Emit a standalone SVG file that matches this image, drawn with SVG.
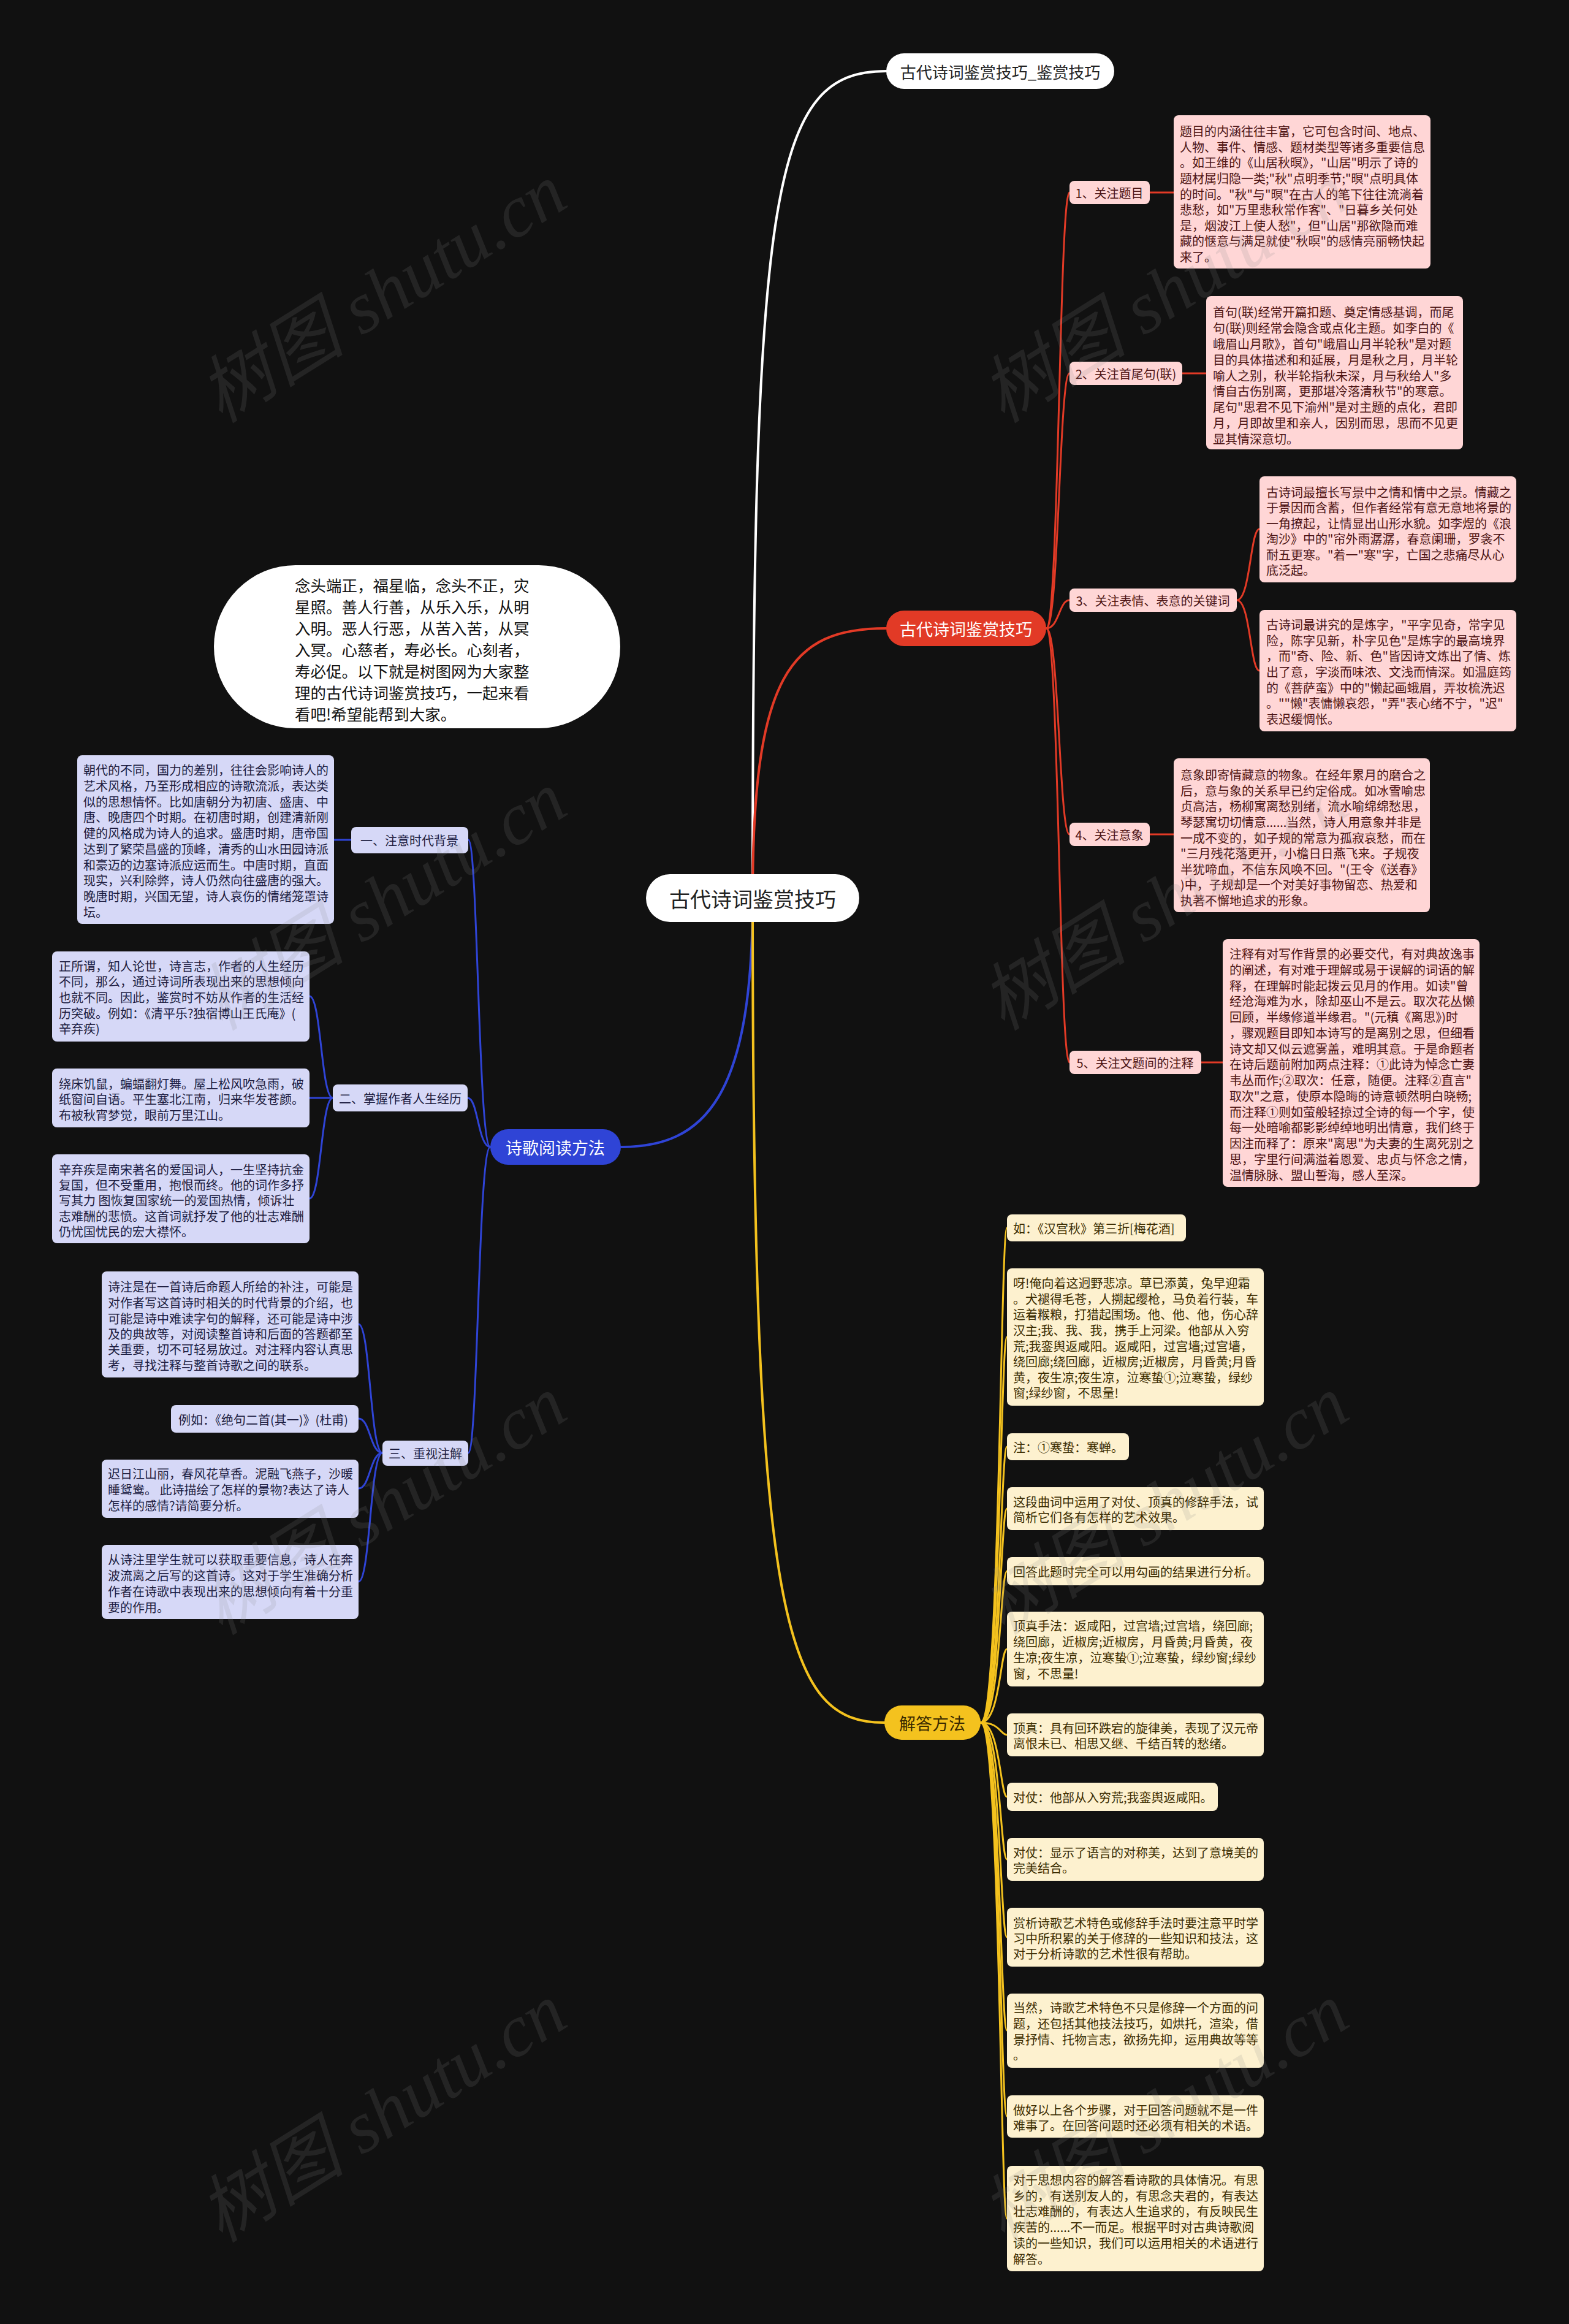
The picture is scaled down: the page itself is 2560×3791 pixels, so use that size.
<svg xmlns="http://www.w3.org/2000/svg" width="2560" height="3791" viewBox="0 0 2560 3791">
<style>
text{font-family:"Noto Sans CJK SC","Noto Sans",sans-serif;dominant-baseline:central}
.pk{fill:#ffd6d6}
.pt{fill:#4d1414;font-size:20px}
.lv{fill:#d6d8f7}
.lt{fill:#1c1c40;font-size:20px}
.yw{fill:#fdf1cf}
.yt{fill:#3b2c00;font-size:20px}
.c{fill:none;stroke-linecap:round}
.wm{font-family:"Liberation Serif","Noto Sans CJK SC",serif;font-style:italic;font-size:120px;fill:#8a8a8a;opacity:0.16;dominant-baseline:auto}
</style>
<rect width="2560" height="3791" fill="#111111"/>
<g id="connectors">
<path class="c" stroke="#ffffff" stroke-width="4" d="M1228 1465 C1228 300 1260 116 1446 116"/>
<path class="c" stroke="#e23a26" stroke-width="4" d="M1228 1465 C1228 1100 1290 1025 1446 1025"/>
<path class="c" stroke="#2f44d6" stroke-width="4" d="M1228 1465 C1228 1790 1150 1871 1013 1871"/>
<path class="c" stroke="#f4c21e" stroke-width="4" d="M1228 1465 C1228 2650 1280 2810 1443 2810"/>
<g stroke="#e23a26" stroke-width="3" class="c">
<path d="M1707 1025 C1728 1025 1728 314 1745 314"/>
<path d="M1707 1025 C1728 1025 1728 609 1745 609"/>
<path d="M1707 1025 C1728 1025 1728 979 1745 979"/>
<path d="M1707 1025 C1728 1025 1728 1361 1745 1361"/>
<path d="M1707 1025 C1728 1025 1728 1733 1745 1733"/>
<path d="M1876 314 L1915 314"/>
<path d="M1929 609 L1968 609"/>
<path d="M2018 979 C2040 979 2040 863 2055 863"/>
<path d="M2018 979 C2040 979 2040 1094 2055 1094"/>
<path d="M1876 1361 L1915 1361"/>
<path d="M1960 1733 L1995 1733"/>
</g>
<g stroke="#2f44d6" stroke-width="3" class="c">
<path d="M800 1871 C780 1871 780 1370 764 1370"/>
<path d="M800 1871 C780 1871 780 1791 763 1791"/>
<path d="M800 1871 C780 1871 780 2370 764 2370"/>
<path d="M573 1370 L545 1370"/>
<path d="M543 1791 C524 1791 524 1625 505 1625"/>
<path d="M543 1791 L505 1791"/>
<path d="M543 1791 C524 1791 524 1955 505 1955"/>
<path d="M624 2370 C604 2370 604 2160 585 2160"/>
<path d="M624 2370 C604 2370 604 2314 585 2314"/>
<path d="M624 2370 C604 2370 604 2428 585 2428"/>
<path d="M624 2370 C604 2370 604 2580 585 2580"/>
</g>
<g stroke="#f4c21e" stroke-width="3" class="c">
<path d="M1600 2810 C1632 2810 1632 2003 1643 2003"/>
<path d="M1600 2810 C1632 2810 1632 2181 1643 2181"/>
<path d="M1600 2810 C1632 2810 1632 2360 1643 2360"/>
<path d="M1600 2810 C1632 2810 1632 2461 1643 2461"/>
<path d="M1600 2810 C1632 2810 1632 2563 1643 2563"/>
<path d="M1600 2810 C1632 2810 1632 2690 1643 2690"/>
<path d="M1600 2810 C1632 2810 1632 2830 1643 2830"/>
<path d="M1600 2810 C1632 2810 1632 2931 1643 2931"/>
<path d="M1600 2810 C1632 2810 1632 3033 1643 3033"/>
<path d="M1600 2810 C1632 2810 1632 3160 1643 3160"/>
<path d="M1600 2810 C1632 2810 1632 3312 1643 3312"/>
<path d="M1600 2810 C1632 2810 1632 3452 1643 3452"/>
<path d="M1600 2810 C1632 2810 1632 3619 1643 3619"/>
</g>
</g>
<g id="center">
<rect x="1054" y="1426" width="348" height="78" rx="39" fill="#ffffff"/>
<text x="1228" y="1465" font-size="34" fill="#222222" text-anchor="middle">古代诗词鉴赏技巧</text>
</g>
<g id="top-node">
<rect x="1446" y="87" width="372" height="58" rx="29" fill="#ffffff"/>
<text x="1632" y="116" font-size="26" fill="#222222" text-anchor="middle">古代诗词鉴赏技巧_鉴赏技巧</text>
</g>
<g id="red-node">
<rect x="1446" y="996" width="261" height="58" rx="29" fill="#e23a26"/>
<text x="1576" y="1025" font-size="27" fill="#ffffff" text-anchor="middle">古代诗词鉴赏技巧</text>
</g>
<g id="blue-node">
<rect x="800" y="1842" width="213" height="58" rx="29" fill="#2f44d6"/>
<text x="906" y="1871" font-size="27" fill="#ffffff" text-anchor="middle">诗歌阅读方法</text>
</g>
<g id="yellow-node">
<rect x="1443" y="2782" width="157" height="56" rx="28" fill="#f4c21e"/>
<text x="1521" y="2810" font-size="27" fill="#3a2a00" text-anchor="middle">解答方法</text>
</g>
<g id="intro">
<rect x="349" y="922" width="663" height="266" rx="133" fill="#ffffff"/>
<g font-size="25.5" fill="#111111">
<text x="481" y="953">念头端正，福星临，念头不正，灾</text>
<text x="481" y="988">星照。善人行善，从乐入乐，从明</text>
<text x="481" y="1023">入明。恶人行恶，从苦入苦，从冥</text>
<text x="481" y="1058">入冥。心慈者，寿必长。心刻者，</text>
<text x="481" y="1093">寿必促。以下就是树图网为大家整</text>
<text x="481" y="1128">理的古代诗词鉴赏技巧，一起来看</text>
<text x="481" y="1163">看吧!希望能帮到大家。</text>
</g>
</g>
<g id="r1">
<rect class="pk" x="1745" y="295" width="131" height="38" rx="8"/>
<text class="pt" x="1810" y="314" text-anchor="middle">1、关注题目</text>
</g>
<g id="r2">
<rect class="pk" x="1745" y="590" width="184" height="38" rx="8"/>
<text class="pt" x="1837" y="609" text-anchor="middle">2、关注首尾句(联)</text>
</g>
<g id="r3">
<rect class="pk" x="1745" y="960" width="273" height="38" rx="8"/>
<text class="pt" x="1881" y="979" text-anchor="middle">3、关注表情、表意的关键词</text>
</g>
<g id="r4">
<rect class="pk" x="1745" y="1342" width="131" height="38" rx="8"/>
<text class="pt" x="1810" y="1361" text-anchor="middle">4、关注意象</text>
</g>
<g id="r5">
<rect class="pk" x="1745" y="1714" width="215" height="38" rx="8"/>
<text class="pt" x="1852" y="1733" text-anchor="middle">5、关注文题间的注释</text>
</g>
<g id="r1-text">
<rect class="pk" x="1915" y="188" width="419" height="250" rx="8"/>
<g class="pt">
<text class="pt" x="1925" y="213">题目的内涵往往丰富，它可包含时间、地点、</text>
<text class="pt" x="1925" y="239">人物、事件、情感、题材类型等诸多重要信息</text>
<text class="pt" x="1925" y="264">。如王维的《山居秋暝》，"山居"明示了诗的</text>
<text class="pt" x="1925" y="290">题材属归隐一类;"秋"点明季节;"暝"点明具体</text>
<text class="pt" x="1925" y="316">的时间。"秋"与"暝"在古人的笔下往往流淌着</text>
<text class="pt" x="1925" y="341">悲愁，如"万里悲秋常作客"、"日暮乡关何处</text>
<text class="pt" x="1925" y="367">是，烟波江上使人愁"，但"山居"那欲隐而难</text>
<text class="pt" x="1925" y="392">藏的惬意与满足就使"秋暝"的感情亮丽畅快起</text>
<text class="pt" x="1925" y="418">来了。</text>
</g>
</g>
<g id="r2-text">
<rect class="pk" x="1968" y="483" width="419" height="250" rx="8"/>
<text class="pt" x="1979" y="508">首句(联)经常开篇扣题、奠定情感基调，而尾</text>
<text class="pt" x="1979" y="534">句(联)则经常会隐含或点化主题。如李白的《</text>
<text class="pt" x="1979" y="560">峨眉山月歌》，首句"峨眉山月半轮秋"是对题</text>
<text class="pt" x="1979" y="586">目的具体描述和和延展，月是秋之月，月半轮</text>
<text class="pt" x="1979" y="612">喻人之别，秋半轮指秋未深，月与秋给人"多</text>
<text class="pt" x="1979" y="637">情自古伤别离，更那堪冷落清秋节"的寒意。</text>
<text class="pt" x="1979" y="663">尾句"思君不见下渝州"是对主题的点化，君即</text>
<text class="pt" x="1979" y="689">月，月即故里和亲人，因别而思，思而不见更</text>
<text class="pt" x="1979" y="715">显其情深意切。</text>
</g>
<g id="r3a-text">
<rect class="pk" x="2055" y="777" width="419" height="173" rx="8"/>
<text class="pt" x="2066" y="802">古诗词最擅长写景中之情和情中之景。情藏之</text>
<text class="pt" x="2066" y="827">于景因而含蓄，但作者经常有意无意地将景的</text>
<text class="pt" x="2066" y="853">一角撩起，让情显出山形水貌。如李煜的《浪</text>
<text class="pt" x="2066" y="878">淘沙》中的"帘外雨潺潺，春意阑珊，罗衾不</text>
<text class="pt" x="2066" y="904">耐五更寒。"着一"寒"字，亡国之悲痛尽从心</text>
<text class="pt" x="2066" y="929">底泛起。</text>
</g>
<g id="r3b-text">
<rect class="pk" x="2055" y="995" width="419" height="198" rx="8"/>
<text class="pt" x="2066" y="1018">古诗词最讲究的是炼字，"平字见奇，常字见</text>
<text class="pt" x="2066" y="1044">险，陈字见新，朴字见色"是炼字的最高境界</text>
<text class="pt" x="2066" y="1069">，而"奇、险、新、色"皆因诗文炼出了情、炼</text>
<text class="pt" x="2066" y="1095">出了意，字淡而味浓、文浅而情深。如温庭筠</text>
<text class="pt" x="2066" y="1121">的《菩萨蛮》中的"懒起画蛾眉，弄妆梳洗迟</text>
<text class="pt" x="2066" y="1146">。""懒"表慵懒哀怨，"弄"表心绪不宁，"迟"</text>
<text class="pt" x="2066" y="1172">表迟缓惆怅。</text>
</g>
<g id="r4-text">
<rect class="pk" x="1915" y="1237" width="418" height="251" rx="8"/>
<text class="pt" x="1926" y="1263">意象即寄情藏意的物象。在经年累月的磨合之</text>
<text class="pt" x="1926" y="1289">后，意与象的关系早已约定俗成。如冰雪喻忠</text>
<text class="pt" x="1926" y="1314">贞高洁，杨柳寓离愁别绪，流水喻绵绵愁思，</text>
<text class="pt" x="1926" y="1340">琴瑟寓切切情意......当然，诗人用意象并非是</text>
<text class="pt" x="1926" y="1366">一成不变的，如子规的常意为孤寂哀愁，而在</text>
<text class="pt" x="1926" y="1391">"三月残花落更开，小檐日日燕飞来。子规夜</text>
<text class="pt" x="1926" y="1417">半犹啼血，不信东风唤不回。"(王令《送春》</text>
<text class="pt" x="1926" y="1442">)中，子规却是一个对美好事物留恋、热爱和</text>
<text class="pt" x="1926" y="1468">执著不懈地追求的形象。</text>
</g>
<g id="r5-text">
<rect class="pk" x="1995" y="1532" width="419" height="404" rx="8"/>
<text class="pt" x="2006" y="1555">注释有对写作背景的必要交代，有对典故逸事</text>
<text class="pt" x="2006" y="1581">的阐述，有对难于理解或易于误解的词语的解</text>
<text class="pt" x="2006" y="1607">释，在理解时能起拨云见月的作用。如读"曾</text>
<text class="pt" x="2006" y="1632">经沧海难为水，除却巫山不是云。取次花丛懒</text>
<text class="pt" x="2006" y="1658">回顾，半缘修道半缘君。"(元稹《离思》)时</text>
<text class="pt" x="2006" y="1684">，骤观题目即知本诗写的是离别之思，但细看</text>
<text class="pt" x="2006" y="1710">诗文却又似云遮雾盖，难明其意。于是命题者</text>
<text class="pt" x="2006" y="1735">在诗后题前附加两点注释：①此诗为悼念亡妻</text>
<text class="pt" x="2006" y="1761">韦丛而作;②取次：任意，随便。注释②直言"</text>
<text class="pt" x="2006" y="1787">取次"之意，使原本隐晦的诗意顿然明白晓畅;</text>
<text class="pt" x="2006" y="1813">而注释①则如萤般轻掠过全诗的每一个字，使</text>
<text class="pt" x="2006" y="1838">每一处暗喻都影影绰绰地明出情意，我们终于</text>
<text class="pt" x="2006" y="1864">因注而释了：原来"离思"为夫妻的生离死别之</text>
<text class="pt" x="2006" y="1890">思，字里行间满溢着恩爱、忠贞与怀念之情，</text>
<text class="pt" x="2006" y="1916">温情脉脉、盟山誓海，感人至深。</text>
</g>
<g id="b1">
<rect class="lv" x="573" y="1349" width="191" height="43" rx="8"/>
<text class="lt" x="668" y="1370" text-anchor="middle">一、注意时代背景</text>
</g>
<g id="b2">
<rect class="lv" x="543" y="1769" width="220" height="44" rx="8"/>
<text class="lt" x="653" y="1791" text-anchor="middle">二、掌握作者人生经历</text>
</g>
<g id="b3">
<rect class="lv" x="624" y="2350" width="140" height="41" rx="8"/>
<text class="lt" x="694" y="2370" text-anchor="middle">三、重视注解</text>
</g>
<g id="b1-text">
<rect class="lv" x="126" y="1232" width="419" height="275" rx="8"/>
<text class="lt" x="136" y="1255">朝代的不同，国力的差别，往往会影响诗人的</text>
<text class="lt" x="136" y="1281">艺术风格，乃至形成相应的诗歌流派，表达类</text>
<text class="lt" x="136" y="1307">似的思想情怀。比如唐朝分为初唐、盛唐、中</text>
<text class="lt" x="136" y="1332">唐、晚唐四个时期。在初唐时期，创建清新刚</text>
<text class="lt" x="136" y="1358">健的风格成为诗人的追求。盛唐时期，唐帝国</text>
<text class="lt" x="136" y="1384">达到了繁荣昌盛的顶峰，清秀的山水田园诗派</text>
<text class="lt" x="136" y="1410">和豪迈的边塞诗派应运而生。中唐时期，直面</text>
<text class="lt" x="136" y="1435">现实，兴利除弊，诗人仍然向往盛唐的强大。</text>
<text class="lt" x="136" y="1461">晚唐时期，兴国无望，诗人哀伤的情绪笼罩诗</text>
<text class="lt" x="136" y="1487">坛。</text>
</g>
<g id="b2a-text">
<rect class="lv" x="85" y="1552" width="420" height="147" rx="8"/>
<text class="lt" x="96" y="1575">正所谓，知人论世，诗言志，作者的人生经历</text>
<text class="lt" x="96" y="1600">不同，那么，通过诗词所表现出来的思想倾向</text>
<text class="lt" x="96" y="1626">也就不同。因此，鉴赏时不妨从作者的生活经</text>
<text class="lt" x="96" y="1652">历突破。例如：《清平乐?独宿博山王氏庵》(</text>
<text class="lt" x="96" y="1677">辛弃疾)</text>
</g>
<g id="b2b-text">
<rect class="lv" x="85" y="1743" width="420" height="96" rx="8"/>
<text class="lt" x="96" y="1767">绕床饥鼠，蝙蝠翻灯舞。屋上松风吹急雨，破</text>
<text class="lt" x="96" y="1792">纸窗间自语。平生塞北江南，归来华发苍颜。</text>
<text class="lt" x="96" y="1818">布被秋宵梦觉，眼前万里江山。</text>
</g>
<g id="b2c-text">
<rect class="lv" x="85" y="1883" width="420" height="145" rx="8"/>
<text class="lt" x="96" y="1907">辛弃疾是南宋著名的爱国词人，一生坚持抗金</text>
<text class="lt" x="96" y="1932">复国，但不受重用，抱恨而终。他的词作多抒</text>
<text class="lt" x="96" y="1957">写其力 图恢复国家统一的爱国热情，倾诉壮</text>
<text class="lt" x="96" y="1983">志难酬的悲愤。这首词就抒发了他的壮志难酬</text>
<text class="lt" x="96" y="2008">仍忧国忧民的宏大襟怀。</text>
</g>
<g id="b3a-text">
<rect class="lv" x="166" y="2074" width="419" height="173" rx="8"/>
<text class="lt" x="176" y="2098">诗注是在一首诗后命题人所给的补注，可能是</text>
<text class="lt" x="176" y="2124">对作者写这首诗时相关的时代背景的介绍，也</text>
<text class="lt" x="176" y="2150">可能是诗中难读字句的解释，还可能是诗中涉</text>
<text class="lt" x="176" y="2175">及的典故等，对阅读整首诗和后面的答题都至</text>
<text class="lt" x="176" y="2200">关重要，切不可轻易放过。对注释内容认真思</text>
<text class="lt" x="176" y="2226">考，寻找注释与整首诗歌之间的联系。</text>
</g>
<g id="b3b-text">
<rect class="lv" x="279" y="2292" width="306" height="45" rx="8"/>
<text class="lt" x="291" y="2315">例如：《绝句二首(其一)》(杜甫)</text>
</g>
<g id="b3c-text">
<rect class="lv" x="166" y="2381" width="419" height="95" rx="8"/>
<text class="lt" x="176" y="2403">迟日江山丽，春风花草香。泥融飞燕子，沙暖</text>
<text class="lt" x="176" y="2429">睡鸳鸯。 此诗描绘了怎样的景物?表达了诗人</text>
<text class="lt" x="176" y="2455">怎样的感情?请简要分析。</text>
</g>
<g id="b3d-text">
<rect class="lv" x="166" y="2520" width="419" height="121" rx="8"/>
<text class="lt" x="176" y="2543">从诗注里学生就可以获取重要信息，诗人在奔</text>
<text class="lt" x="176" y="2569">波流离之后写的这首诗。这对于学生准确分析</text>
<text class="lt" x="176" y="2595">作者在诗歌中表现出来的思想倾向有着十分重</text>
<text class="lt" x="176" y="2621">要的作用。</text>
</g>
<g id="y1">
<rect class="yw" x="1643" y="1981" width="292" height="44" rx="8"/>
<text class="yt" x="1653" y="2003">如：《汉宫秋》第三折[梅花酒]</text>
</g>
<g id="y2">
<rect class="yw" x="1643" y="2069" width="419" height="224" rx="8"/>
<text class="yt" x="1653" y="2092">呀!俺向着这迥野悲凉。草已添黄，兔早迎霜</text>
<text class="yt" x="1653" y="2118">。犬褪得毛苍，人搠起缨枪，马负着行装，车</text>
<text class="yt" x="1653" y="2143">运着糇粮，打猎起围场。他、他、他，伤心辞</text>
<text class="yt" x="1653" y="2169">汉主;我、我、我，携手上河梁。他部从入穷</text>
<text class="yt" x="1653" y="2195">荒;我銮舆返咸阳。返咸阳，过宫墙;过宫墙，</text>
<text class="yt" x="1653" y="2220">绕回廊;绕回廊，近椒房;近椒房，月昏黄;月昏</text>
<text class="yt" x="1653" y="2246">黄，夜生凉;夜生凉，泣寒蛰①;泣寒蛰，绿纱</text>
<text class="yt" x="1653" y="2271">窗;绿纱窗，不思量!</text>
</g>
<g id="y3">
<rect class="yw" x="1643" y="2338" width="199" height="44" rx="8"/>
<text class="yt" x="1653" y="2360">注：①寒蛰：寒蝉。</text>
</g>
<g id="y4">
<rect class="yw" x="1643" y="2426" width="419" height="70" rx="8"/>
<text class="yt" x="1653" y="2449">这段曲词中运用了对仗、顶真的修辞手法，试</text>
<text class="yt" x="1653" y="2474">简析它们各有怎样的艺术效果。</text>
</g>
<g id="y5">
<rect class="yw" x="1643" y="2540" width="419" height="46" rx="8"/>
<text class="yt" x="1653" y="2563">回答此题时完全可以用勾画的结果进行分析。</text>
</g>
<g id="y6">
<rect class="yw" x="1643" y="2629" width="419" height="122" rx="8"/>
<text class="yt" x="1653" y="2651">顶真手法：返咸阳，过宫墙;过宫墙，绕回廊;</text>
<text class="yt" x="1653" y="2677">绕回廊，近椒房;近椒房，月昏黄;月昏黄，夜</text>
<text class="yt" x="1653" y="2703">生凉;夜生凉，泣寒蛰①;泣寒蛰，绿纱窗;绿纱</text>
<text class="yt" x="1653" y="2729">窗，不思量!</text>
</g>
<g id="y7">
<rect class="yw" x="1643" y="2795" width="419" height="70" rx="8"/>
<text class="yt" x="1653" y="2818">顶真：具有回环跌宕的旋律美，表现了汉元帝</text>
<text class="yt" x="1653" y="2843">离恨未已、相思又继、千结百转的愁绪。</text>
</g>
<g id="y8">
<rect class="yw" x="1643" y="2908" width="344" height="46" rx="8"/>
<text class="yt" x="1653" y="2931">对仗：他部从入穷荒;我銮舆返咸阳。</text>
</g>
<g id="y9">
<rect class="yw" x="1643" y="2998" width="419" height="70" rx="8"/>
<text class="yt" x="1653" y="3021">对仗：显示了语言的对称美，达到了意境美的</text>
<text class="yt" x="1653" y="3046">完美结合。</text>
</g>
<g id="y10">
<rect class="yw" x="1643" y="3112" width="419" height="96" rx="8"/>
<text class="yt" x="1653" y="3136">赏析诗歌艺术特色或修辞手法时要注意平时学</text>
<text class="yt" x="1653" y="3161">习中所积累的关于修辞的一些知识和技法，这</text>
<text class="yt" x="1653" y="3186">对于分析诗歌的艺术性很有帮助。</text>
</g>
<g id="y11">
<rect class="yw" x="1643" y="3252" width="419" height="121" rx="8"/>
<text class="yt" x="1653" y="3274">当然，诗歌艺术特色不只是修辞一个方面的问</text>
<text class="yt" x="1653" y="3300">题，还包括其他技法技巧，如烘托，渲染，借</text>
<text class="yt" x="1653" y="3326">景抒情、托物言志，欲扬先抑，运用典故等等</text>
<text class="yt" x="1653" y="3351">。</text>
</g>
<g id="y12">
<rect class="yw" x="1643" y="3418" width="419" height="69" rx="8"/>
<text class="yt" x="1653" y="3441">做好以上各个步骤，对于回答问题就不是一件</text>
<text class="yt" x="1653" y="3466">难事了。在回答问题时还必须有相关的术语。</text>
</g>
<g id="y13">
<rect class="yw" x="1643" y="3533" width="419" height="172" rx="8"/>
<text class="yt" x="1653" y="3555">对于思想内容的解答看诗歌的具体情况。有思</text>
<text class="yt" x="1653" y="3581">乡的，有送别友人的，有思念夫君的，有表达</text>
<text class="yt" x="1653" y="3606">壮志难酬的，有表达人生追求的，有反映民生</text>
<text class="yt" x="1653" y="3632">疾苦的......不一而足。根据平时对古典诗歌阅</text>
<text class="yt" x="1653" y="3658">读的一些知识，我们可以运用相关的术语进行</text>
<text class="yt" x="1653" y="3684">解答。</text>
</g>
<g id="watermarks">
<text class="wm" transform="translate(646 513) rotate(-32)" text-anchor="middle">树图 shutu.cn</text>
<text class="wm" transform="translate(1922 513) rotate(-32)" text-anchor="middle">树图 shutu.cn</text>
<text class="wm" transform="translate(646 1504) rotate(-32)" text-anchor="middle">树图 shutu.cn</text>
<text class="wm" transform="translate(1922 1504) rotate(-32)" text-anchor="middle">树图 shutu.cn</text>
<text class="wm" transform="translate(646 2490) rotate(-32)" text-anchor="middle">树图 shutu.cn</text>
<text class="wm" transform="translate(1922 2490) rotate(-32)" text-anchor="middle">树图 shutu.cn</text>
<text class="wm" transform="translate(646 3481) rotate(-32)" text-anchor="middle">树图 shutu.cn</text>
<text class="wm" transform="translate(1922 3481) rotate(-32)" text-anchor="middle">树图 shutu.cn</text>
</g>
</svg>
